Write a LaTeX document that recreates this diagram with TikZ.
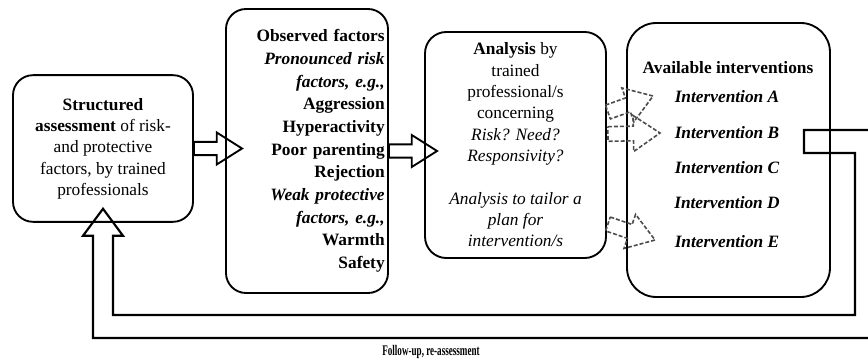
\documentclass[tikz,border=0pt]{standalone}
\usepackage{fontspec}
\setmainfont{Liberation Serif}
\usetikzlibrary{calc}

\begin{document}
\begin{tikzpicture}[x=0.75pt,y=-0.75pt,
    box/.style={draw,line width=1.4pt,rounded corners=15pt,align=center,
      font=\fontsize{13}{16}\selectfont},
    item/.style={font=\fontsize{13}{16}\selectfont\bfseries\itshape},
    hollow/.style n args={3}{line join=miter,to path={
      ($(\tikztostart)!#1!90:(\tikztotarget)$)
      -- ($($(\tikztotarget)!#3!(\tikztostart)$)!#1!90:(\tikztotarget)$)
      -- ($($(\tikztotarget)!#3!(\tikztostart)$)!#2!90:(\tikztotarget)$)
      -- (\tikztotarget)
      -- ($($(\tikztotarget)!#3!(\tikztostart)$)!#2!-90:(\tikztotarget)$)
      -- ($($(\tikztotarget)!#3!(\tikztostart)$)!#1!-90:(\tikztotarget)$)
      -- ($(\tikztostart)!#1!-90:(\tikztotarget)$) -- cycle}},
    solidarrow/.style={hollow={5pt}{12pt}{19pt},line width=1.4pt},
    dasharrow/.style={hollow={5.5pt}{13.5pt}{20pt},line width=1.2pt,draw=black!70,dash pattern=on 3pt off 1.5pt},
    band/.style={line width=1.6pt,line join=miter}]
                \useasboundingbox (0,0) rectangle (868,360);
                \clip (0,0) rectangle (868,360);
                % boxes
                \node[box,minimum width=135pt,minimum height=110pt] (b1) at (103,148.5)
                  {\textbf{Structured}\\\textbf{assessment} of risk-\\and protective\\factors, by trained\\professionals};
                \node[box,align=right,text width=116.5pt,inner xsep=2.5pt,minimum height=213pt,
                  font=\fontsize{13}{17}\selectfont\bfseries] (b2) at (307,151)
                  {Observed factors\\\textit{Pronounced risk}\\\textit{factors, e.g.,}\\Aggression\\Hyperactivity\\
                   Poor parenting\\Rejection\\\textit{Weak protective}\\\textit{factors, e.g.,}\\Warmth\\Safety};
                \node[box,rounded corners=16pt,minimum width=135.75pt,minimum height=169.5pt] (b3) at (515.5,145)
                  {\textbf{Analysis} by\\trained\\professional/s\\concerning\\\textit{Risk? Need?}\\\textit{Responsivity?}\\[16pt]
                   \textit{Analysis to tailor a}\\\textit{plan for}\\\textit{intervention/s}};
                \node[box,rounded corners=22pt,minimum width=152.25pt,minimum height=205.5pt] (b4) at (728.5,160) {};
                \node[font=\fontsize{13}{16}\selectfont\bfseries] (h4) at (728,68) {Available interventions};
                \node[item] (iA) at (727,97) {Intervention A};
                \node[item] (iB) at (727,133) {Intervention B};
                \node[item] (iC) at (727,168) {Intervention C};
                \node[item] (iD) at (727,203) {Intervention D};
                \node[item] (iE) at (727,242) {Intervention E};
                \node[font=\fontsize{11}{13}\selectfont\bfseries] (fu) at (431,352)
                  {\scalebox{0.62}[1]{Follow-up, re-assessment}};
                % arrow ends
                \coordinate (t12) at ($(b1.east -| b2.west)+(17,0)$);
                \coordinate (t23) at ($(b2.east -| b3.west)+(13,0)$);
                \coordinate (sA) at ($(b3.east)+(1,-33)$);
                \coordinate (sB) at ($(b3.east)+(1,-11)$);
                \coordinate (sE) at ($(b3.east)+(1,79)$);
                \coordinate (tA) at ($(iA.west)+(-17,-1)$);
                \coordinate (tB) at ($(iB.west)+(-10,0)$);
                \coordinate (tE) at ($(iE.west)+(-15,-2)$);
                \coordinate (fb) at ($(b4.east)+(-27,-18.5)$);
                \coordinate (ft) at ($(b1.south)+(0,-14)$);
                % arrows
                \draw[solidarrow] (b1.east) to (t12);
                \draw[solidarrow] (b2.east) to (t23);
                \draw[dasharrow] (sA) to (tA);
                \draw[dasharrow] (sB) to (tB);
                \draw[dasharrow] (sE) to (tE);
                \draw[band] ($(fb)+(0,-11.5)$) -| (878,338) -| ($(ft)+(-10,27)$) -- ++(-10,0) -- (ft)
                  -- ++(20,27) -- ++(-10,0) |- (855,315) |- ($(fb)+(0,11.5)$) -- cycle;
\end{tikzpicture}
\end{document}
